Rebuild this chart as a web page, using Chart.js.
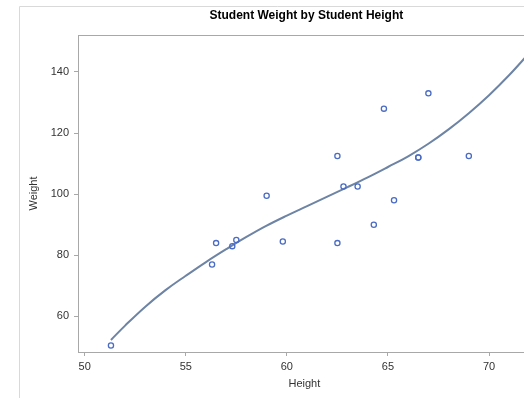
<!DOCTYPE html>
<html lang="en">
<head>
    <meta charset="UTF-8">
    <title>Student Weight by Student Height</title>
    <style>
        html, body {
            margin: 0;
            padding: 0;
            background: #fff;
            overflow: hidden;
        }
        /* the plot runs on past the right edge of the window, like the cropped original */
        #chart-container {
            position: relative;
            width: 536px;
            height: 398px;
        }
    </style>
</head>
<body>
    <div id="chart-container">
        <canvas id="classChart"></canvas>
    </div>
    <script src="https://cdn.jsdelivr.net/npm/chart.js"></script>
    <script>
        // sashelp.class style data
        const heights = [69.0, 56.5, 65.3, 62.8, 63.5, 57.3, 59.8, 62.5, 62.5, 59.0,
                         51.3, 64.3, 56.3, 66.5, 72.0, 64.8, 67.0, 57.5, 66.5];
        const weights = [112.5, 84.0, 98.0, 102.5, 102.5, 83.0, 84.5, 112.5, 84.0, 99.5,
                         50.5, 90.0, 77.0, 112.0, 150.0, 128.0, 133.0, 85.0, 112.0];

        // fitted curve
        const fitHeights = [51.3, 52, 53, 54, 55, 56, 57, 58, 59, 60, 61, 62, 63, 64, 65, 66, 67, 68, 69, 70, 71, 72];
        const fitWeights = [52.3, 57.0, 63.2, 68.6, 73.3, 77.8, 82.0, 86.0, 89.7, 93.0, 96.1, 99.2, 102.3, 105.5, 108.9, 112.4, 116.5, 121.2, 126.5, 132.4, 139.0, 146.3];

        const xTicks = [50, 55, 60, 65, 70];
        const yTicks = [60, 80, 100, 120, 140];

        const chartTitle = 'Student Weight by Student Height';
        const axisColor = '#a8a8a8';
        const textColor = '#333333';

        // outer frame, plot box and title
        const decorations = {
            id: 'decorations',
            beforeDraw(chart) {
                const c = chart.ctx;
                c.save();
                c.strokeStyle = '#d9d9d9';
                c.lineWidth = 1;
                c.beginPath();
                c.moveTo(19.5, 398);
                c.lineTo(19.5, 6.5);
                c.lineTo(chart.width, 6.5);
                c.stroke();
                c.restore();
            },
            afterDraw(chart) {
                const c = chart.ctx;
                const a = chart.chartArea;
                c.save();
                c.strokeStyle = axisColor;
                c.lineWidth = 1;
                c.beginPath();
                c.moveTo(a.right, Math.round(a.top) + 0.5);
                c.lineTo(Math.round(a.left) + 0.5, Math.round(a.top) + 0.5);
                c.stroke();
                c.fillStyle = '#000';
                c.font = 'bold 12px Arial, "Liberation Sans", sans-serif';
                c.textAlign = 'center';
                c.textBaseline = 'middle';
                c.fillText(chartTitle, (a.left + a.right) / 2 + 2, 16);
                c.restore();
            }
        };

        const ctx = document.getElementById('classChart').getContext('2d');
        const chart = new Chart(ctx, {
            data: {
                datasets: [{
                    type: 'line',
                    label: 'Fit',
                    data: fitHeights.map((h, i) => ({ x: h, y: fitWeights[i] })),
                    borderColor: '#6d84a5',
                    borderWidth: 2,
                    pointRadius: 0,
                    fill: false,
                    tension: 0.4,
                    order: 2
                }, {
                    type: 'scatter',
                    label: 'Weight',
                    data: heights.map((h, i) => ({ x: h, y: weights[i] })),
                    borderColor: '#4a6cc4',
                    backgroundColor: 'rgba(0,0,0,0)',
                    borderWidth: 1.3,
                    pointRadius: 2.6,
                    order: 1
                }]
            },
            options: {
                responsive: true,
                maintainAspectRatio: false,
                animation: false,
                layout: {
                    padding: { left: 19, top: 35, right: 0, bottom: 0 }
                },
                plugins: {
                    legend: { display: false },
                    tooltip: { enabled: false },
                    title: { display: false }
                },
                scales: {
                    x: {
                        type: 'linear',
                        position: 'bottom',
                        min: 49.67,
                        max: 72.06,
                        afterBuildTicks: s => { s.ticks = xTicks.map(v => ({ value: v })); },
                        afterFit: s => { s.height = 46; },
                        border: { display: true, color: axisColor, width: 1 },
                        grid: { drawOnChartArea: false, drawTicks: true, tickLength: 4, color: axisColor },
                        ticks: {
                            color: textColor,
                            padding: 4,
                            maxRotation: 0,
                            font: { family: 'Arial, "Liberation Sans", sans-serif', size: 11 }
                        },
                        title: {
                            display: true,
                            text: 'Height',
                            color: textColor,
                            padding: { top: 0, bottom: 7 },
                            font: { family: 'Arial, "Liberation Sans", sans-serif', size: 11 }
                        }
                    },
                    y: {
                        type: 'linear',
                        min: 48.36,
                        max: 152.1,
                        afterBuildTicks: s => { s.ticks = yTicks.map(v => ({ value: v })); },
                        afterFit: s => { s.width = 59; },
                        border: { display: true, color: axisColor, width: 1 },
                        grid: { drawOnChartArea: false, drawTicks: true, tickLength: 4, color: axisColor },
                        ticks: {
                            color: textColor,
                            padding: 5,
                            font: { family: 'Arial, "Liberation Sans", sans-serif', size: 11 }
                        },
                        title: {
                            display: true,
                            text: 'Weight',
                            color: textColor,
                            padding: { top: 8, bottom: 0 },
                            font: { family: 'Arial, "Liberation Sans", sans-serif', size: 11 }
                        }
                    }
                }
            },
            plugins: [decorations]
        });
    </script>
</body>
</html>
